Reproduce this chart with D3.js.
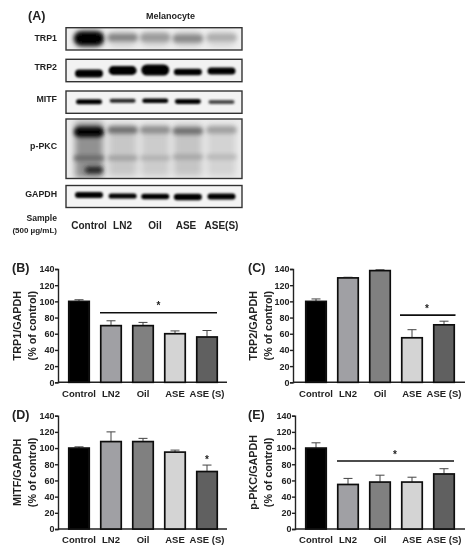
<!DOCTYPE html>
<html><head><meta charset="utf-8">
<script src="https://cdnjs.cloudflare.com/ajax/libs/d3/7.8.5/d3.min.js"></script>
<style>html,body{margin:0;padding:0;background:#fff}svg{display:block}text{font-family:"Liberation Sans",Arial,sans-serif;font-weight:700;fill:#222}</style>
</head><body><div id="c"></div>
<script>
const categories = ["Control","LN2","Oil","ASE","ASE (S)"];
const blotLanes = ["Control","LN2","Oil","ASE","ASE(S)"];
const yTicks = [0,20,40,60,80,100,120,140];
const trp1Values = [100,70,70,60,56];
const trp1Errors = [2,6,4,3.5,8];
const trp2Values = [100,129,138,55,71];
const trp2Errors = [3,0.8,1,10,4.5];
const mitfValues = [100,108,108,95,71];
const mitfErrors = [1.5,12,4,2.5,8];
const pkcValues = [100,55,58,58,68];
const pkcErrors = [6.5,7.5,8.5,6,6.5];
const barColors = ["#000000","#a0a0a4","#808080","#d4d4d4","#606060"];
// band darkness per lane, read from the blots
const trp1Bands = [1,.46,.36,.44,.28];
const trp1Smear = [.3,.12,.12,.12,.1];
const trp2Bands = [1,1,1,1,1];
const mitfBands = [1,.85,1,1,.7];
const pkcTopBands = [1,.55,.42,.55,.34];
const pkcSmear = [.4,.17,.15,.18,.12];
const pkcMidBands = [.58,.34,.27,.32,.25];
const pkcLowBands = [.85,0,0,0,0];
const gapdhBands = [1,1,1,1,1];

const W=474,H=550;
const svg=d3.select("#c").append("svg").attr("width",W).attr("height",H);
const defs=svg.append("defs");
[[0.35,"soft"],[1.1,"b0"],[1.9,"b1"],[3,"b2"]].forEach(([s,id])=>{
  defs.append("filter").attr("id",id).attr("x","-30%").attr("y","-60%").attr("width","160%").attr("height","220%")
    .append("feGaussianBlur").attr("stdDeviation",s);
});
const root=svg.append("g").attr("filter","url(#soft)");
const label=(x,y,t,size,anchor)=>root.append("text").attr("x",x).attr("y",y).attr("font-size",size).attr("text-anchor",anchor||"start").text(t);

label(28,20,"(A)",12.5);
label(170.5,18.5,"Melanocyte",9,"middle");

// western blots
const laneX=d3.scalePoint().domain(blotLanes).range([89,221.5]);
const laneShift=[0,.5,0,-.5,0];
const ink=d3.scaleLinear().domain([0,1]).range(["#efefef","#050505"]);
const frameX=66,frameW=176;
const blots=[
 {name:"TRP1",y0:27.7,y1:50,ly:40.7,bg:"#efefef",rows:[
   {v:trp1Smear,ys:[39,39,39,39,39],h:[9,8,8,8,8],w:15,f:"b2"},
   {v:trp1Bands,ys:[38.5,37.5,37.5,38.5,37.5],h:[7,3.8,4.2,4,3.8],w:15,f:"b1"}]},
 {name:"TRP2",y0:59.3,y1:81.7,ly:70,bg:"#f2f2f2",rows:[{v:trp2Bands,ys:[73.5,70.5,70,72,71],h:[4,4.4,5.6,3.2,3.6],w:14,f:"b0"}]},
 {name:"MITF",y0:91,y1:113.3,ly:101.7,bg:"#f3f3f3",rows:[{v:mitfBands,ys:[101.7,100.7,100.7,101.5,102],h:[2.5,2,2.3,2.4,1.9],w:13,f:"b0"}]},
 {name:"p-PKC",y0:119,y1:178.5,ly:149,bg:"#ececec",rows:[
   {v:pkcSmear,ys:[150,150,150,150,150],h:[28,26,26,26,26],w:14,sq:1,f:"b2"},
   {v:pkcTopBands,ys:[132,130,130,131,130],h:[5,3.6,3.6,3.6,3.6],w:15,f:"b1"},
   {v:pkcMidBands,ys:[158,158,158,157,157],h:[2.6,2.4,2.4,2.4,2.4],w:15,f:"b1"},
   {v:pkcLowBands,ys:[170,170,170,170,170],h:[3.6,0,0,0,0],w:9,dx:5,f:"b1"}]},
 {name:"GAPDH",y0:185.5,y1:207.5,ly:196.7,bg:"#f4f4f4",rows:[{v:gapdhBands,ys:[195,196,196.5,197,196.5],h:[2.9,2.6,2.7,3.3,2.9],w:14,f:"b0"}]}
];
blots.forEach((b,i)=>{
  const cid="clip"+i;
  defs.append("clipPath").attr("id",cid).append("rect").attr("x",frameX).attr("y",b.y0).attr("width",frameW).attr("height",b.y1-b.y0);
  const g=root.append("g").attr("clip-path",`url(#${cid})`);
  g.append("rect").attr("x",frameX).attr("y",b.y0).attr("width",frameW).attr("height",b.y1-b.y0).attr("fill",b.bg);
  b.rows.forEach(r=>{
    const corner=(d,j)=>r.sq?2:r.h[j];
    g.append("g").attr("filter",`url(#${r.f})`).selectAll("rect").data(r.v).join("rect")
      .attr("x",(d,j)=>laneX(blotLanes[j])+laneShift[j]-r.w+(r.dx||0))
      .attr("width",r.w*2)
      .attr("y",(d,j)=>r.ys[j]-r.h[j])
      .attr("height",(d,j)=>r.h[j]*2)
      .attr("rx",corner).attr("ry",corner)
      .attr("fill",d=>ink(d))
      .attr("opacity",d=>d>0?1:0);
  });
  root.append("rect").attr("x",frameX).attr("y",b.y0).attr("width",frameW).attr("height",b.y1-b.y0)
    .attr("fill","none").attr("stroke","#333").attr("stroke-width",1.4);
  label(57,b.ly,b.name,8.8,"end");
});
label(57,221,"Sample",8.6,"end");
label(57,232.7,"(500 µg/mL)",8,"end");
const laneLabelX=[89,122.5,155,186,221.5];
blotLanes.forEach((t,j)=>label(laneLabelX[j],229,t,10,"middle"));

// bar panels
function panel(o){
  const y=d3.scaleLinear().domain([0,140]).range([o.y0,o.y140]);
  const x=d3.scaleBand().domain(categories).range([o.bandL,o.bandL+o.step*5]).paddingInner(.36).paddingOuter(.18);
  const g=root.append("g");
  const yAxis=d3.axisLeft(y).tickValues(yTicks).tickSize(3).tickFormat(d3.format("d"));
  const ga=g.append("g").attr("transform",`translate(${o.axisX},0)`).call(yAxis);
  ga.select(".domain").attr("stroke","#222").attr("stroke-width",1.4);
  ga.selectAll(".tick line").attr("stroke","#222").attr("stroke-width",1.4);
  ga.selectAll(".tick text").attr("font-size",9).attr("x",-3.6).attr("fill","#222");
  const gx=g.append("g").attr("transform",`translate(0,${o.y0})`).call(d3.axisBottom(x).tickSize(0));
  gx.select(".domain").attr("d",`M${o.axisX},0H${o.axisEnd}`).attr("stroke","#222").attr("stroke-width",1.4);
  gx.selectAll(".tick text").attr("font-size",9.5).attr("y",7.5).attr("dy",".71em").attr("fill","#222");
  const rows=categories.map((c,i)=>({c,v:o.values[i],e:o.errors[i],col:barColors[i]}));
  const cx=d=>x(d.c)+x.bandwidth()/2;
  g.selectAll(".err").data(rows).join("path").attr("fill","none").attr("stroke","#444").attr("stroke-width",1)
    .attr("d",d=>`M${cx(d)},${y(d.v)}V${y(d.v+d.e)}M${cx(d)-4.5},${y(d.v+d.e)}H${cx(d)+4.5}`);
  g.selectAll(".bar").data(rows).join("rect")
    .attr("x",d=>x(d.c)).attr("width",x.bandwidth())
    .attr("y",d=>y(d.v)).attr("height",d=>o.y0-y(d.v))
    .attr("fill",d=>d.col).attr("stroke","#111").attr("stroke-width",1.7);
  if(o.sig){
    g.append("path").attr("d",`M${o.sig[0]},${y(o.sig[2])}H${o.sig[1]}`).attr("stroke","#111").attr("stroke-width",1.6);
  }
  if(o.star) g.append("text").attr("x",o.star[0]).attr("y",y(o.star[1])).attr("text-anchor","middle").attr("font-size",10).text("*");
  label(o.letterX,o.y140+3,o.letter,12.5);
  const t=g.append("g").attr("transform",`translate(${o.titleX},${(o.y0+o.y140)/2+o.titleDy}) rotate(-90)`);
  t.append("text").attr("text-anchor","middle").attr("font-size",10.8).text(o.title);
  t.append("text").attr("text-anchor","middle").attr("font-size",10.8).attr("y",15).text("(% of control)");
}
const baseB={axisX:58,axisEnd:227,bandL:63,step:32,y0:382.3,y140:269};
panel({...baseB,values:trp1Values,errors:trp1Errors,letter:"(B)",letterX:12,title:"TRP1/GAPDH",titleX:21,titleDy:0,sig:[100,217,86],star:[158.5,90]});
panel({axisX:293,axisEnd:465,bandL:300,step:32,y0:382.3,y140:269,values:trp2Values,errors:trp2Errors,letter:"(C)",letterX:248,title:"TRP2/GAPDH",titleX:257,titleDy:0,sig:[400,455.5,83],star:[427,87]});
panel({...baseB,y0:529,y140:415.7,values:mitfValues,errors:mitfErrors,letter:"(D)",letterX:12,title:"MITF/GAPDH",titleX:21,titleDy:0,star:[207,81]});
panel({axisX:295,axisEnd:465,bandL:300,step:32,y0:529,y140:415.7,values:pkcValues,errors:pkcErrors,letter:"(E)",letterX:248,title:"p-PKC/GAPDH",titleX:257,titleDy:0,sig:[337,454,84],star:[395,88]});
</script></body></html>
